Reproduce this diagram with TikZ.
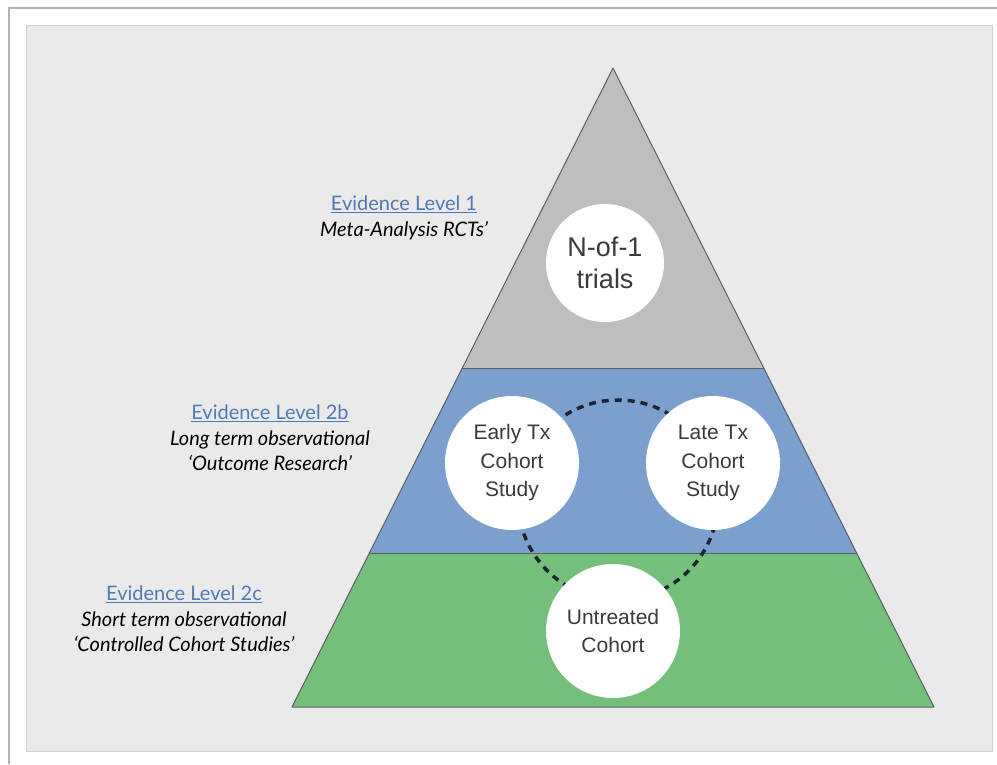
\documentclass[tikz,border=0pt]{standalone}
\usepackage{fontspec}
\setmainfont{Liberation Sans}
\newfontfamily\levelfont{Lato}
\definecolor{panel}{HTML}{EAEAEA}
\definecolor{panelline}{HTML}{D2D2D2}
\definecolor{frameline}{HTML}{B4B4B4}
\definecolor{topband}{HTML}{BEBEBE}
\definecolor{midband}{HTML}{7BA0CD}
\definecolor{lowband}{HTML}{74C07A}
\definecolor{edgeline}{HTML}{5A5F66}
\definecolor{levelblue}{HTML}{4F7AB3}
\definecolor{studytext}{HTML}{3A3A3A}
\definecolor{ringline}{HTML}{1C2633}
\begin{document}
\begin{tikzpicture}[x=1pt,y=-1pt]
\tikzset{study/.style={circle,fill=white,minimum size=134pt,inner sep=0pt,align=center,text=studytext,font=\fontsize{21}{28.5}\selectfont}}
\tikzset{level/.style={align=center,font=\levelfont\fontsize{20}{25.5}\selectfont}}
\useasboundingbox (0,0) rectangle (997,764);
\fill[white] (0,0) rectangle (997,764);
\draw[frameline,line width=2pt] (9,764) -- (9,8) -- (997,8);
\filldraw[fill=panel,draw=panelline] (26,25) rectangle (992,751);
\coordinate (apex) at (613,68);
\coordinate (bl) at (292,707);
\coordinate (br) at (934,707);
\coordinate (ul) at (462.3,368);
\coordinate (ur) at (763.7,368);
\coordinate (ml) at (369.4,553);
\coordinate (mr) at (856.6,553);
\fill[lowband] (ml) -- (mr) -- (br) -- (bl) -- cycle;
\fill[midband] (ul) -- (ur) -- (mr) -- (ml) -- cycle;
\fill[topband] (apex) -- (ur) -- (ul) -- cycle;
\draw[edgeline,line width=1pt,line join=round] (apex) -- (br) -- (bl) -- cycle;
\draw[edgeline,line width=1pt] (ul) -- (ur) (ml) -- (mr);
\coordinate (ring) at (618,500);
\draw[ringline,line width=3.5pt,dash pattern=on 7pt off 6pt] (ring) circle (100);
\node[study,minimum size=118pt,font=\fontsize{27}{32}\selectfont] (trials) at (605,263) {N-of-1\\trials};
\node[study] (early) at (512,463) {Early Tx\\Cohort\\Study};
\node[study] (late) at (713,463) {Late Tx\\Cohort\\Study};
\node[study] (untreated) at (613,631) {Untreated\\Cohort};
\node[level] (level1) at (404,218) {{\color{levelblue}\underline{Evidence Level 1}}\\{\itshape Meta-Analysis RCTs’}};
\node[level] (level2b) at (270,438) {{\color{levelblue}\underline{Evidence Level 2b}}\\{\itshape Long term observational}\\{\itshape ‘Outcome Research’}};
\node[level] (level2c) at (184,619) {{\color{levelblue}\underline{Evidence Level 2c}}\\{\itshape Short term observational}\\{\itshape ‘Controlled Cohort Studies’}};
\end{tikzpicture}
\end{document}
